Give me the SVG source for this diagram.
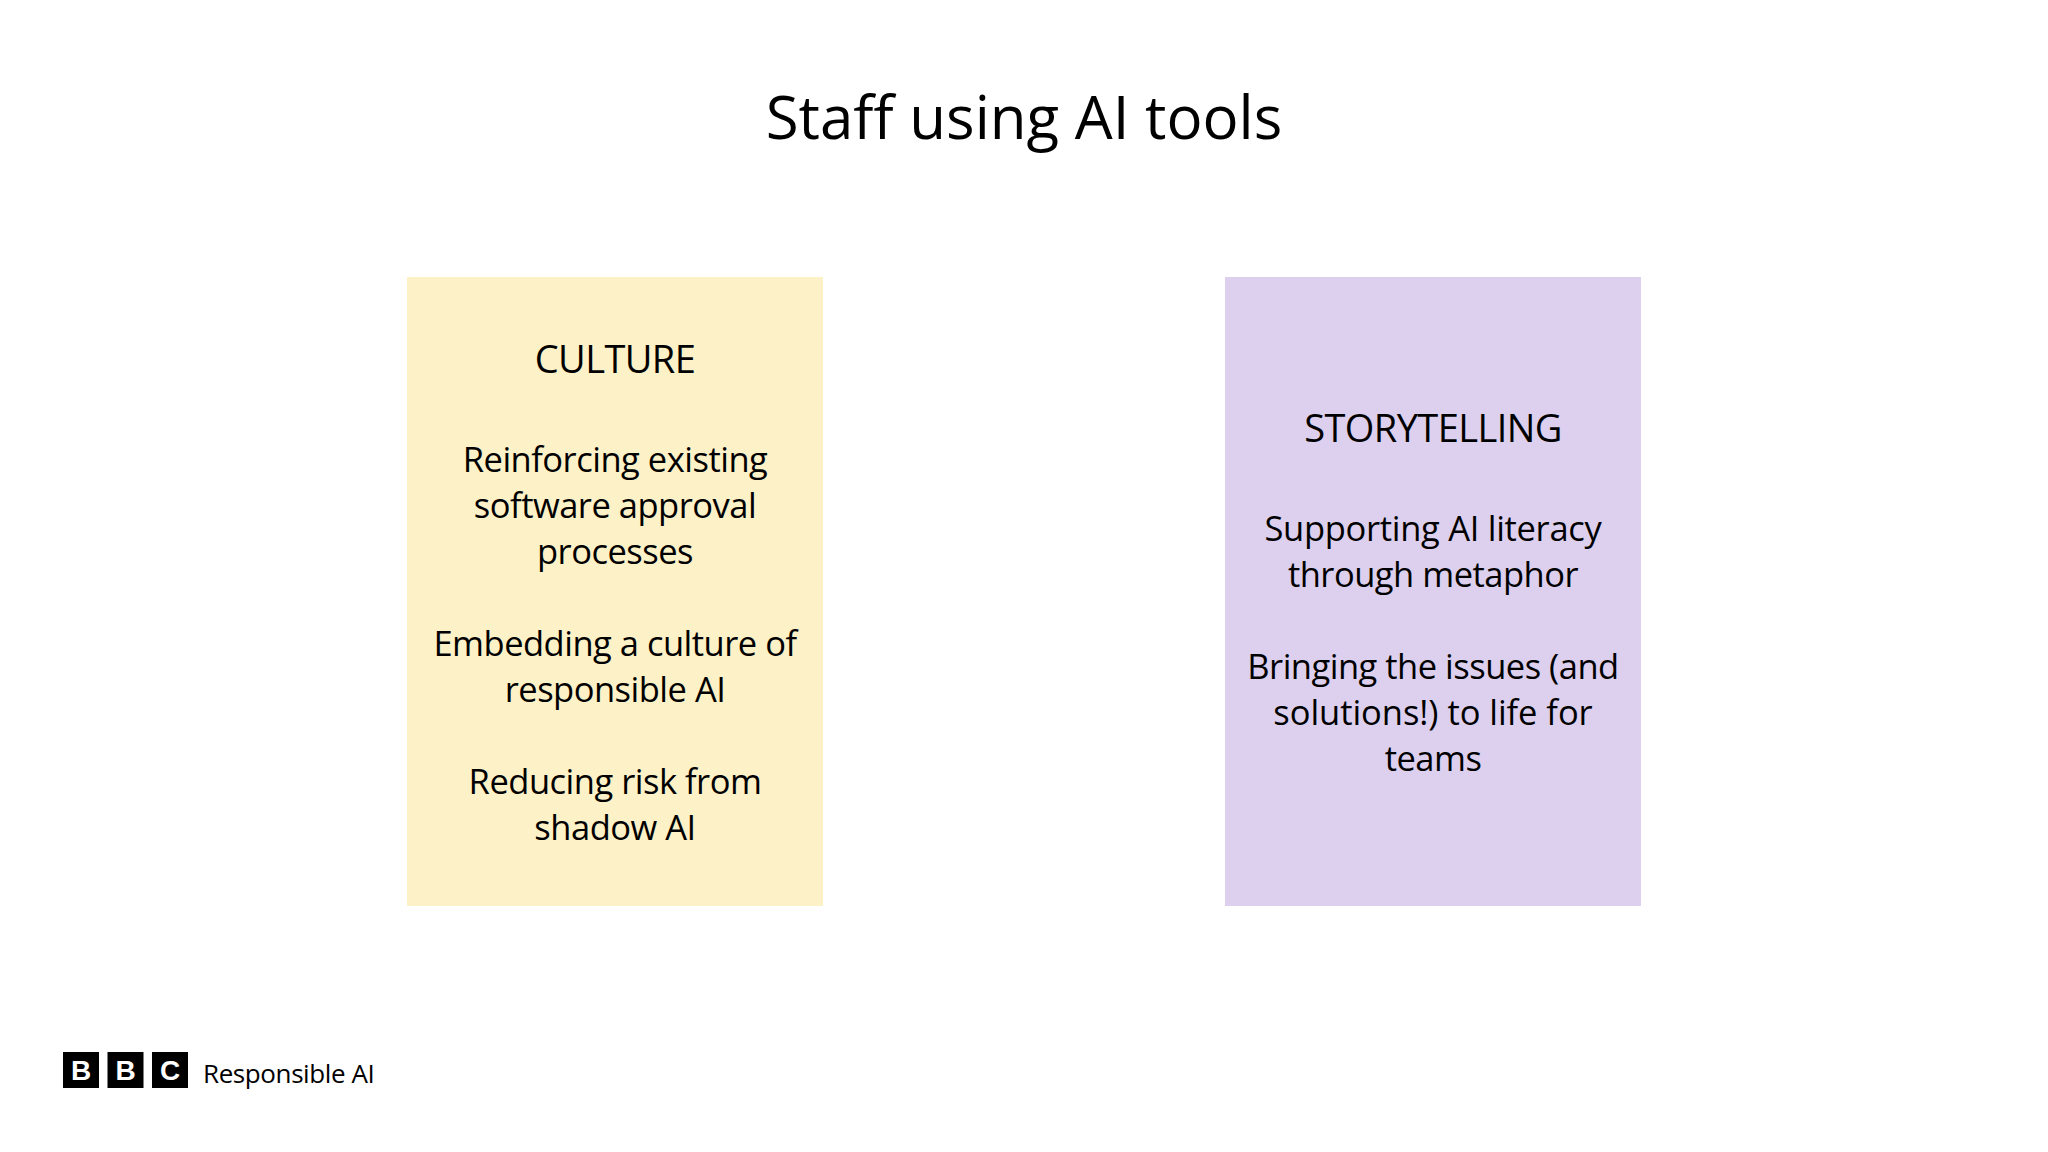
<svg xmlns="http://www.w3.org/2000/svg" width="2048" height="1152" viewBox="0 0 2048 1152">
<style>
text{font-family:"Open Sans","Noto Sans","Liberation Sans",sans-serif;fill:#000;text-anchor:middle}
.b{font-size:34.500px;letter-spacing:-.5px}
.h{font-size:38px;letter-spacing:-.6px}
.l{font-weight:700;font-size:28px;fill:#fff;font-family:"Liberation Sans",sans-serif}
</style>
<rect width="2048" height="1152" fill="#fff"/>
<g id="title"><text x="1024" y="139" font-size="60">Staff using AI tools</text></g>
<g id="culture">
<rect x="407" y="277" width="416" height="629" fill="#fdf1c7"/>
<text class="h" x="615" y="373">CULTURE</text>
<text class="b" x="615" y="471.500">Reinforcing existing</text>
<text class="b" x="615" y="517.500">software approval</text>
<text class="b" x="615" y="563.500">processes</text>
<text class="b" x="615" y="655.500">Embedding a culture of</text>
<text class="b" x="615" y="701.500">responsible AI</text>
<text class="b" x="615" y="793.500">Reducing risk from</text>
<text class="b" x="615" y="839.500">shadow AI</text>
</g>
<g id="storytelling">
<rect x="1225" y="277" width="416" height="629" fill="#dcd0ee"/>
<text class="h" x="1433" y="442">STORYTELLING</text>
<text class="b" x="1433" y="540.500" style="letter-spacing:-.3px">Supporting AI literacy</text>
<text class="b" x="1433" y="586.500">through metaphor</text>
<text class="b" x="1433" y="678.500">Bringing the issues (and</text>
<text class="b" x="1433" y="724.500" style="letter-spacing:-.05px">solutions!) to life for</text>
<text class="b" x="1433" y="770.500">teams</text>
</g>
<g id="logo">
<rect x="63" y="1052" width="36" height="36"/><rect x="107.500" y="1052" width="36" height="36"/><rect x="152" y="1052" width="36" height="36"/>
<text class="l" x="81" y="1080">B</text><text class="l" x="125.500" y="1080">B</text><text class="l" x="170" y="1080">C</text>
<text x="203" y="1083" font-size="26" letter-spacing="-.4" style="text-anchor:start">Responsible AI</text>
</g>
</svg>
